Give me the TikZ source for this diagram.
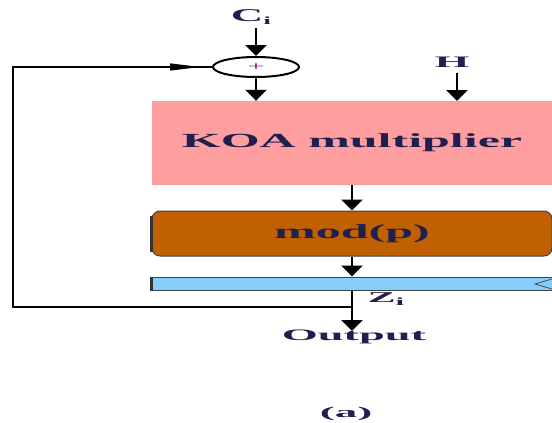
\documentclass[tikz,border=0pt]{standalone}
\usepackage{fontspec}
\setmainfont{Liberation Serif}
\usetikzlibrary{arrows.meta,shapes.geometric,calc}
\definecolor{pinkbox}{HTML}{FF9E9E}
\definecolor{brownbox}{HTML}{C06000}
\definecolor{bluebar}{HTML}{87CEFA}
\definecolor{txt}{HTML}{1F2050}
\newcommand{\wtxt}[3]{\scalebox{#1}[1]{\fontsize{#2}{#2}\selectfont\bfseries #3}}
\begin{document}
\begin{tikzpicture}[x=1pt,y=-1pt,
  lbl/.style={text=txt,inner sep=0pt},
  vline/.style={line width=2.8pt},
  hline/.style={line width=1.2pt},
  bigarrow/.style={-{Triangle[width=21pt,length=11pt]}},
  smallarrow/.style={-{Triangle[width=7pt,length=30pt]}}]
\useasboundingbox (0,0) rectangle (552,423);
% boxes
\node[fill=pinkbox,minimum width=400pt,minimum height=84pt,inner sep=0pt,lbl] (koa) at (352,143) {\wtxt{2.5}{20}{KOA multiplier}};
\node[fill=brownbox,draw=black!75,line width=1pt,rounded corners=8pt,minimum width=400pt,minimum height=45pt,inner sep=0pt,lbl] (mod) at (352,233.5) {\wtxt{2.5}{20}{mod(p)}};
\draw[line width=3pt,black!80] ([yshift=-5pt]mod.north west) -- ([yshift=5pt]mod.south west);
\node[fill=bluebar,draw=black!75,line width=1pt,minimum width=400pt,minimum height=13pt,inner sep=0pt] (bar) at (352,283.5) {};
\draw[line width=3pt,black!80] (bar.north west) -- (bar.south west);
\coordinate (clkT) at (552,279);
\coordinate (clkM) at (535,284);
\coordinate (clkB) at (552,289);
\draw[black!70,line width=0.8pt] (clkT) -- (clkM) -- (clkB);
% adder
\node[draw,ellipse,line width=2pt,minimum width=86pt,minimum height=20pt,inner sep=0pt] (plus) at (256,67) {};
\node[inner sep=0pt,text=red!60!blue] at (plus) {\scalebox{2.5}[1]{\fontsize{12}{12}\selectfont +}};
% labels
\node[lbl] (ci) at (251,17) {\wtxt{2.5}{18}{C\raisebox{-3pt}{\fontsize{11}{11}\selectfont i}}};
\node[lbl] (h) at (452,62) {\wtxt{2.8}{16}{H}};
\node[lbl] (zi) at (386,299) {\wtxt{2.8}{15}{Z\raisebox{-3pt}{\fontsize{11}{11}\selectfont i}}};
\node[lbl] (out) at (354,337) {\wtxt{2.9}{16}{Output}};
\node[lbl] (cap) at (346,414) {\wtxt{3}{15}{(a)}};
% arrows
\draw[vline,bigarrow] (256,28) -- (plus.north);
\draw[vline,bigarrow] (plus.south) -- (plus.south |- koa.north);
\draw[vline,bigarrow] (457,73) -- (457 ,101);
\draw[vline,bigarrow] (koa.south) -- (mod.north);
\draw[vline,bigarrow] (mod.south) -- (bar.north);
\coordinate (fb) at (352,307);
\coordinate (fbL) at (13,307);
\coordinate (fbT) at (13,67);
\coordinate (fbA) at (200,67);
\draw[vline,bigarrow] (bar.south) -- (352,331);
\draw[hline] (fb) -- (fbL);
\draw[line width=2.6pt] (13,307.6) -- (13,66.4);
\draw[hline] (fbT) -- (plus.west);
\draw[hline,smallarrow] (fbT) -- (fbA);
\end{tikzpicture}
\end{document}
